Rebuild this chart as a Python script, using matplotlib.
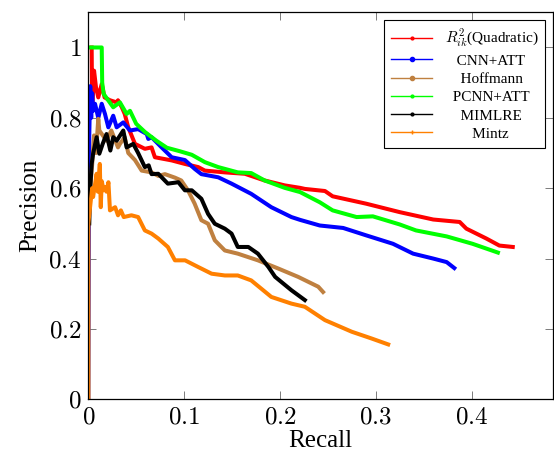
import matplotlib
matplotlib.use('Agg')
import matplotlib.pyplot as plt
from matplotlib.lines import Line2D
from matplotlib.ticker import FuncFormatter

plt.rcParams['font.family'] = ['Liberation Serif', 'DejaVu Serif']
plt.rcParams['mathtext.fontset'] = 'cm'

# Precision / recall curves
red_x = [0.0035, 0.004, 0.006, 0.008, 0.0104, 0.014, 0.017, 0.0226, 0.0295, 0.031, 0.035, 0.038,
         0.0417, 0.0487, 0.059, 0.066, 0.0695, 0.087, 0.1008, 0.1147, 0.1217, 0.1425, 0.1634, 0.184,
         0.205, 0.221, 0.226, 0.247, 0.255, 0.29, 0.325, 0.36, 0.3876, 0.3946, 0.4154, 0.429, 0.443]
red_y = [1.0, 0.82, 0.934, 0.887, 0.858, 0.896, 0.858, 0.85, 0.844, 0.85, 0.83, 0.811,
         0.773, 0.726, 0.712, 0.716, 0.688, 0.679, 0.669, 0.66, 0.65, 0.645, 0.641, 0.622,
         0.608, 0.601, 0.598, 0.592, 0.577, 0.556, 0.532, 0.511, 0.504, 0.485, 0.457, 0.437, 0.433]

blue_x = [0, 0.001, 0.002, 0.003, 0.004, 0.005, 0.007, 0.0104, 0.014, 0.0174, 0.0209, 0.026, 0.0296,
          0.0365, 0.0435, 0.052, 0.061, 0.0626, 0.066, 0.0765, 0.087, 0.1008, 0.111, 0.118, 0.1356,
          0.1495, 0.17, 0.191, 0.212, 0.221, 0.2416, 0.266, 0.29, 0.318, 0.339, 0.36, 0.374, 0.382]
blue_y = [0, 0.75, 0.89, 0.80, 0.87, 0.82, 0.84, 0.80, 0.84, 0.811, 0.773, 0.806, 0.773,
          0.787, 0.764, 0.768, 0.754, 0.74, 0.745, 0.716, 0.688, 0.68, 0.655, 0.64, 0.631,
          0.613, 0.584, 0.546, 0.518, 0.51, 0.494, 0.487, 0.466, 0.442, 0.414, 0.40, 0.39, 0.373]

brown_x = [0, 0, 0.002, 0.004, 0.006, 0.008, 0.0104, 0.0115, 0.019, 0.024, 0.031, 0.033, 0.038,
           0.0417, 0.0487, 0.0557, 0.066, 0.073, 0.08, 0.0904, 0.097, 0.104, 0.111, 0.118, 0.125,
           0.132, 0.1425, 0.156, 0.177, 0.198, 0.219, 0.24, 0.245]
brown_y = [0, 0.5, 0.6, 0.667, 0.75, 0.70, 0.797, 0.764, 0.735, 0.764, 0.716, 0.726, 0.745,
           0.70, 0.68, 0.65, 0.645, 0.635, 0.64, 0.63, 0.622, 0.594, 0.556, 0.509, 0.499,
           0.452, 0.423, 0.414, 0.395, 0.372, 0.348, 0.32, 0.305]

green_x = [0, 0.014, 0.0145, 0.016, 0.026, 0.033, 0.04, 0.0435, 0.05, 0.059, 0.071, 0.082, 0.0956,
           0.108, 0.1217, 0.1356, 0.156, 0.17, 0.184, 0.205, 0.221, 0.2416, 0.255, 0.28, 0.297,
           0.325, 0.342, 0.374, 0.401, 0.4275]
green_y = [1.0, 1.0, 0.90, 0.868, 0.83, 0.844, 0.811, 0.82, 0.783, 0.76, 0.735, 0.715, 0.705,
           0.695, 0.674, 0.66, 0.645, 0.643, 0.622, 0.601, 0.589, 0.56, 0.537, 0.518, 0.52,
           0.497, 0.48, 0.463, 0.442, 0.417]

black_x = [0.001, 0.002, 0.0035, 0.005, 0.0087, 0.0115, 0.015, 0.019, 0.023, 0.026, 0.0296, 0.0365,
           0.04, 0.0469, 0.052, 0.059, 0.063, 0.066, 0.073, 0.083, 0.094, 0.1008, 0.108, 0.118,
           0.125, 0.132, 0.1425, 0.1495, 0.156, 0.167, 0.177, 0.188, 0.195, 0.212, 0.226]
black_y = [0.5, 0.6, 0.669, 0.698, 0.745, 0.698, 0.726, 0.754, 0.707, 0.745, 0.735, 0.764,
           0.716, 0.726, 0.70, 0.66, 0.665, 0.64, 0.641, 0.613, 0.617, 0.594, 0.594, 0.57,
           0.527, 0.499, 0.485, 0.471, 0.433, 0.433, 0.414, 0.376, 0.348, 0.31, 0.282]

orange_x = [0, 0, 0.002, 0.004, 0.005, 0.0087, 0.01, 0.012, 0.013, 0.014, 0.016, 0.0174, 0.019,
            0.021, 0.0226, 0.028, 0.031, 0.034, 0.037, 0.045, 0.052, 0.059, 0.066, 0.073, 0.083,
            0.0904, 0.101, 0.1147, 0.1287, 0.1425, 0.156, 0.17, 0.191, 0.212, 0.226, 0.247,
            0.275, 0.2955, 0.313]
orange_y = [0, 0.5, 0.55, 0.6, 0.575, 0.641, 0.59, 0.669, 0.546, 0.62, 0.594, 0.603, 0.59,
            0.617, 0.537, 0.546, 0.523, 0.537, 0.518, 0.523, 0.518, 0.48, 0.471, 0.457, 0.433,
            0.395, 0.395, 0.376, 0.357, 0.352, 0.352, 0.338, 0.291, 0.272, 0.263, 0.225,
            0.192, 0.173, 0.156]

labels = [r'$R^2_{ik}$(Quadratic)', 'CNN+ATT', 'Hoffmann', 'PCNN+ATT', 'MIMLRE', 'Mintz']
colors = ['#ff0000', '#0000ff', '#bf8040', '#00ff00', '#000000', '#ff8000']
markers = ['.', 'o', 'o', '.', '.', '+']
xticks = [0, 0.1, 0.2, 0.3, 0.4]
yticks = [0, 0.2, 0.4, 0.6, 0.8, 1.0]

series = [(red_x, red_y), (blue_x, blue_y), (brown_x, brown_y),
          (green_x, green_y), (black_x, black_y), (orange_x, orange_y)]

fig = plt.figure(figsize=(5.54, 4.62), dpi=100)
ax = fig.add_axes([0.1594, 0.1357, 0.8388, 0.8377])

# dense markers in the original make the curves look thick
for (xs, ys), c in zip(series, colors):
    ax.plot(xs, ys, color=c, linewidth=2.9, solid_joinstyle='round')

ax.set_xlim(0, 0.485)
ax.set_ylim(0, 1.1)
ax.set_xticks(xticks)
ax.set_yticks(yticks)
fmt = FuncFormatter(lambda v, p: '$%g$' % v)
ax.xaxis.set_major_formatter(fmt)
ax.yaxis.set_major_formatter(fmt)
ax.tick_params(direction='in', length=6, width=0.6, color='#666666',
               top=True, right=True, labelsize=18, pad=5)
for s in ax.spines.values():
    s.set_linewidth(0.9)

ax.set_xlabel('Recall', fontsize=18, labelpad=1)
ax.set_ylabel('Precision', fontsize=18, labelpad=5)

# pgfplots centres legend text; fake it by padding with spaces
renderer = fig.canvas.get_renderer()
def text_width(s):
    t = fig.text(0, 0, s, fontsize=11)
    w = t.get_window_extent(renderer).width
    t.remove()
    return w

widths = [text_width(l) for l in labels]
space_w = text_width('a a') - text_width('aa')
max_w = max(widths)
padded = [' ' * int(round((max_w - w) / 2 / space_w)) + l for l, w in zip(labels, widths)]

handles = [Line2D([], [], color=c, marker=m, markersize=3 if m != '.' else 4, linewidth=1)
           for c, m in zip(colors, markers)]
leg = ax.legend(handles, padded, loc='upper right', bbox_to_anchor=(0.983, 0.98),
                borderaxespad=0, fontsize=11, handlelength=2.7, labelspacing=0.3,
                fancybox=False, edgecolor='black', framealpha=1, borderpad=0.45,
                handletextpad=0.8)
leg.get_frame().set_linewidth(0.8)

plt.savefig('out.png', dpi=100)
